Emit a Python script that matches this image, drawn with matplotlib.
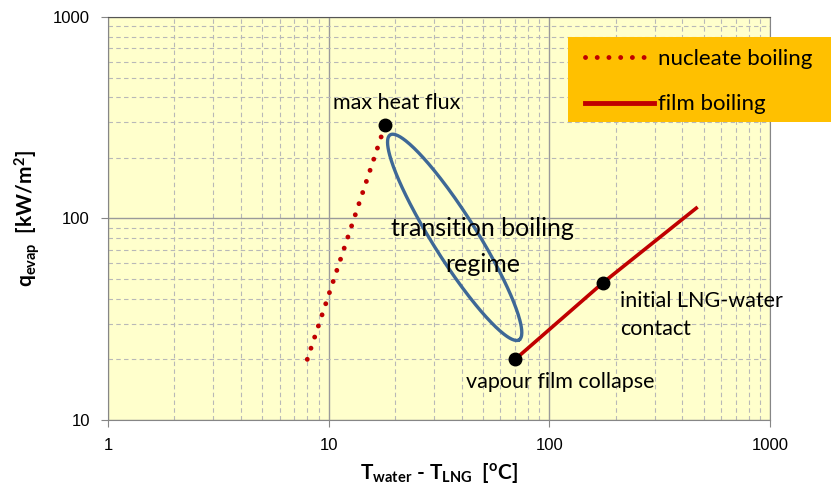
import numpy as np
import matplotlib
matplotlib.use("Agg")
import matplotlib.pyplot as plt
from matplotlib.lines import Line2D
from matplotlib.patches import Rectangle

# boiling curve points (dT in degC, q in kW/m2)
nucleate_dT = [8, 18]
nucleate_q = [20, 290]
film_dT = [70, 175, 470]
film_q = [20, 48, 114]
# labelled states
point_dT = [18, 70, 175]
point_q = [290, 20, 48]
# transition boiling regime ellipse: two ends of the long axis
regime_ends_dT = [19, 73]
regime_ends_q = [260, 25]

red = "#C00000"
blue = "#3E6896"
label_font = "Lato"

fig = plt.figure(figsize=(8.31, 5.0), dpi=100)
ax = fig.add_axes([108 / 831, 80 / 500, 662 / 831, 403 / 500])
ax.set_facecolor("#FFFFCC")
ax.set_xscale("log")
ax.set_yscale("log")
ax.set_xlim(1, 1000)
ax.set_ylim(10, 1000)

ax.grid(True, which="major", color="#9A9A9A", lw=1.0, ls="-")
ax.grid(True, which="minor", color="#B8B8B8", lw=0.8, ls=(0, (4, 3)))
ax.tick_params(which="minor", length=0)
ax.tick_params(which="major", length=5, color="#868686", labelsize=12, pad=8)
for lab in ax.get_xticklabels() + ax.get_yticklabels():
    lab.set_fontfamily("Liberation Sans")
ax.xaxis.set_major_formatter(matplotlib.ticker.FuncFormatter(lambda v, p: f"{v:g}"))
ax.yaxis.set_major_formatter(matplotlib.ticker.FuncFormatter(lambda v, p: f"{v:g}"))
for s in ax.spines.values():
    s.set_color("#868686")
ax.spines["top"].set_color("#555555")

# nucleate (dotted) and film (solid) boiling
ax.plot(nucleate_dT, nucleate_q, color=red, lw=3.5, ls=(0, (0.01, 2.4)),
        dash_capstyle="round", zorder=3)
ax.plot(film_dT, film_q, color=red, lw=2.6, solid_capstyle="butt", zorder=3)
ax.plot(point_dT, point_q, "o", color="black", ms=9, zorder=4)

# ellipse built in screen space so it looks round on the log axes
p = ax.transData.transform(np.column_stack([regime_ends_dT, regime_ends_q]))
c = p.mean(axis=0)
d = (p[1] - p[0]) / 2
a = np.hypot(*d)
u = d / a
v = np.array([-u[1], u[0]])
b = 22
t = np.linspace(0, 2 * np.pi, 300)
pts = c + np.outer(a * np.cos(t), u) + np.outer(b * np.sin(t), v)
ell = ax.transData.inverted().transform(pts)
ax.plot(ell[:, 0], ell[:, 1], color=blue, lw=2.4, zorder=3)

# annotations
ax.text(0.340, 0.787, "max heat flux", transform=ax.transAxes, fontsize=15.5,
        family=label_font, va="center", ha="left")
ax.text(0.566, 0.476, "transition boiling", transform=ax.transAxes, fontsize=18,
        family=label_font, va="center", ha="center")
ax.text(0.566, 0.385, "regime", transform=ax.transAxes, fontsize=18,
        family=label_font, va="center", ha="center")
ax.text(0.773, 0.295, "initial LNG-water", transform=ax.transAxes, fontsize=15.5,
        family=label_font, va="center", ha="left")
ax.text(0.773, 0.226, "contact", transform=ax.transAxes, fontsize=15.5,
        family=label_font, va="center", ha="left")
ax.text(0.541, 0.094, "vapour film collapse", transform=ax.transAxes, fontsize=15.5,
        family=label_font, va="center", ha="left")

plt.rcParams["mathtext.default"] = "regular"
ax.set_xlabel(r"T$_{water}$ - T$_{LNG}$  [$^{o}$C]", fontsize=15, family=label_font,
              fontweight="bold", labelpad=6)
ax.set_ylabel(r"q$_{evap}$  [kW/m$^{2}$]", fontsize=15, family=label_font,
              fontweight="bold", labelpad=8)

# legend on an orange block running off the right edge
fig.patches.append(Rectangle((568 / 831, 1 - 122 / 500), 270 / 831, 85 / 500,
                             transform=fig.transFigure, facecolor="#FFC000",
                             edgecolor="none", zorder=5))
handles = [Line2D([], [], color=red, lw=3.5, ls=(0, (0.01, 2.4)), dash_capstyle="round"),
           Line2D([], [], color=red, lw=3.5)]
leg = fig.legend(handles, ["nucleate boiling", "film boiling"], loc="upper left",
                 bbox_to_anchor=(567 / 831, 1 - 31 / 500), frameon=False,
                 prop={"family": label_font, "size": 16}, handlelength=3.1,
                 handletextpad=0.2, labelspacing=1.15, borderpad=0.3)
leg.set_zorder(6)

fig.savefig("out.png", dpi=100)
